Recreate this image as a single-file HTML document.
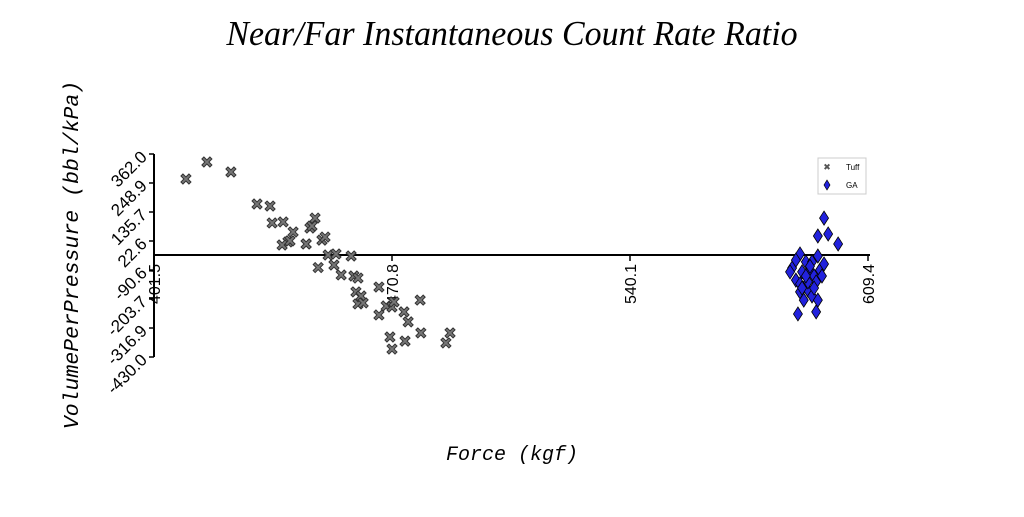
<!DOCTYPE html>
<html><head><meta charset="utf-8"><style>
body{margin:0;background:#fff;}
svg text{font-family:"Liberation Sans",sans-serif;}
</style></head><body>
<svg id="chart" width="1024" height="512" xmlns="http://www.w3.org/2000/svg">
<text x="512" y="45" text-anchor="middle" font-size="35" font-style="italic" style="font-family:'Liberation Serif',serif" transform="translate(512,0) scale(0.97,1) translate(-512,0)">Near/Far Instantaneous Count Rate Ratio</text>
<text transform="translate(78,255) rotate(-90)" text-anchor="middle" font-size="21.5" font-style="italic" style="font-family:'Liberation Mono',monospace">VolumePerPressure (bbl/kPa)</text>
<text x="512" y="460" text-anchor="middle" font-size="20" font-style="italic" style="font-family:'Liberation Mono',monospace">Force (kgf)</text>
<g id="axes"></g>
<g id="marks"></g>
<g>
<rect x="818" y="158" width="48" height="36" fill="#fff" stroke="#ccc"/>
<text x="827" y="170" font-size="9" text-anchor="middle" fill="#555">✖</text>
<text x="846" y="170" font-size="8">Tuff</text>
<path d="M827,180 L830,185 L827,190 L824,185 Z" fill="#2222dd" stroke="#000" stroke-width="0.7"/>
<text x="846" y="188" font-size="8">GA</text>
</g>
</svg>
<script>
const xTicks=[401.5,470.8,540.1,609.4];
const yTicks=[362.0,248.9,135.7,22.6,-90.6,-203.7,-316.9,-430.0];
const xAxisAt=-32;
const tuffX=[410.8,416.9,423.9,431.5,435.3,435.9,439.1,442.0,440.5,438.8,441.1,445.8,446.9,448.4,447.5,450.4,451.3,445.8,452.2,454.5,453.9,456.0,458.9,459.7,460.9,460.3,461.8,460.9,462.4,467.0,467.0,469.1,470.8,471.4,470.2,470.8,474.3,475.5,474.6,479.0,479.2,486.5,487.7,449.3];
const tuffY=[264.5,330.8,291.8,167,159,93,97,58,19,7,23,11,73,112,81,26,38,11,-32,-28,-71,-110,-36,-114,-122,-176,-192,-223,-219,-157,-266,-231,-235,-215,-352,-399,-254,-293,-368,-208,-336,-375,-336,-81];
const gaX=[596.6,594.8,597.8,600.7,589.6,594.8,587.3,586.7,588.4,591.3,592.5,593.7,595.4,596.6,589.6,590.7,589.0,591.9,593.1,594.3,594.8,594.3,590.2,591.9,588.4,593.1,596.0,591.3,589.6,593.7,592.5,590.2];
const gaY=[112,42,50,11,-28,-36,-83,-98,-130,-59,-91,-114,-91,-67,-176,-208,-262,-169,-192,-137,-208,-254,-98,-137,-52,-59,-114,-114,-145,-161,-76,-161];
const NS="http://www.w3.org/2000/svg";
const X0=154,X1=868,Y0=154,Y1=357;
function sx(v){return X0+(v-401.5)/(609.4-401.5)*(X1-X0);}
function sy(v){return Y0+(362-v)/(362+430)*(Y1-Y0);}
function mk(tag,attrs,parent){const e=document.createElementNS(NS,tag);for(const k in attrs)e.setAttribute(k,attrs[k]);parent.appendChild(e);return e;}
const axes=document.getElementById('axes'),marks=document.getElementById('marks');
let l=mk('line',{x1:X0,y1:Y0,x2:X0,y2:Y1,stroke:'#000','stroke-width':2},axes);


const ay=sy(xAxisAt);
l=mk('line',{x1:X0,y1:ay,x2:X1+2,y2:ay,stroke:'#000','stroke-width':2},axes);


yTicks.forEach(v=>{const y=sy(v);
 const t=mk('line',{x1:X0-5,y1:y,x2:X0,y2:y,stroke:'#000','stroke-width':1.5},axes);
 
 
 const tx=mk('text',{transform:`translate(${X0-6},${y+4}) rotate(-45)`,'text-anchor':'end','font-size':17},axes);
 tx.textContent=v.toFixed(1);
 
 });
xTicks.forEach(v=>{const x=sx(v);
 const t=mk('line',{x1:x,y1:ay,x2:x,y2:ay+6,stroke:'#000','stroke-width':1.5},axes);
 
 
 const tx=mk('text',{transform:`translate(${x+6},${ay+9}) rotate(-90)`,'text-anchor':'end','font-size':16},axes);
 tx.textContent=v.toFixed(1);
 
 });
tuffX.forEach((v,i)=>{const x=sx(v),y=sy(tuffY[i]);
 const p=mk('path',{d:`M${x-5},${y-3} L${x-3},${y-5} L${x},${y-2} L${x+3},${y-5} L${x+5},${y-3} L${x+2},${y} L${x+5},${y+3} L${x+3},${y+5} L${x},${y+2} L${x-3},${y+5} L${x-5},${y+3} L${x-2},${y} Z`,fill:'#777',stroke:'#333','stroke-width':1},marks);
 
 });
gaX.forEach((v,i)=>{const x=sx(v),y=sy(gaY[i]);
 const p=mk('path',{d:`M${x},${y-7} L${x+4.5},${y} L${x},${y+7} L${x-4.5},${y} Z`,fill:'#2222dd',stroke:'#000','stroke-width':0.8},marks);
 
 });
</script>
</body></html>
